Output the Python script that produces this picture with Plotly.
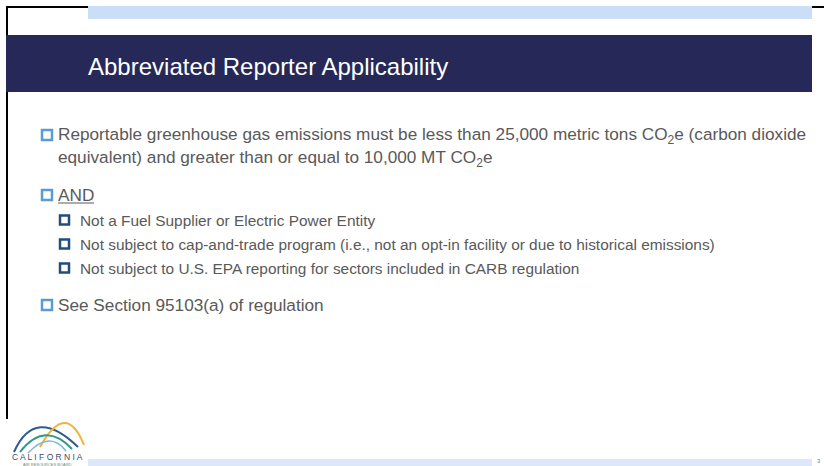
import plotly.graph_objects as go

W, H = 824, 466

title_text = "Abbreviated Reporter Applicability"
main_bullets = [
    ["Reportable greenhouse gas emissions must be less than 25,000 metric tons CO<sub>2</sub>e (carbon dioxide",
     "equivalent) and greater than or equal to 10,000 MT CO<sub>2</sub>e"],
    ["AND"],
    ["See Section 95103(a) of regulation"],
]
main_bullet_y = [135, 195, 305]
sub_bullets = [
    "Not a Fuel Supplier or Electric Power Entity",
    "Not subject to cap-and-trade program (i.e., not an opt-in facility or due to historical emissions)",
    "Not subject to U.S. EPA reporting for sectors included in CARB regulation",
]
sub_bullet_y = [220, 244, 268]
page_number = "3"

NAVY = "#262957"
LIGHT_BLUE = "#CADFF7"
LIGHTER_BLUE = "#DCE8F9"
TEXT_GRAY = "#595959"
BULLET_BLUE = "#5B9BD5"
SUB_BULLET = "#1F4E79"
LINE_GAP = 23

fig = go.Figure()
shapes = []
annotations = []

def rect(x0, y0, x1, y1, fill, line_color=None, lw=0):
    shapes.append(dict(type="rect", xref="x", yref="y", x0=x0, y0=y0, x1=x1, y1=y1,
                       fillcolor=fill, line=dict(color=line_color or fill, width=lw), layer="above"))

# frame lines
rect(6, 6, 88, 8, "black")
rect(6, 6, 8, 419, "black")
rect(812, 6, 824, 8, "black")
# top light band
rect(88, 6, 812, 19, LIGHT_BLUE)
# title band
rect(6, 35, 812, 92, NAVY)
# bottom band
rect(88, 459, 812, 466, LIGHTER_BLUE)

annotations.append(dict(x=86, y=66, xref="x", yref="y", text=title_text, showarrow=False,
                        xanchor="left", yanchor="middle",
                        font=dict(family="Liberation Sans Narrow, Arial Narrow, Liberation Sans", size=24, color="white")))

# main bullets
for lines, y in zip(main_bullets, main_bullet_y):
    rect(42, y - 5, 52, y + 5, "white", BULLET_BLUE, 2.5)
    for i, txt in enumerate(lines):
        annotations.append(dict(x=56, y=y + i * LINE_GAP, xref="x", yref="y", text=txt, showarrow=False,
                                xanchor="left", yanchor="middle", align="left",
                                font=dict(family="Liberation Sans, Arial", size=17.2, color=TEXT_GRAY)))
# underline AND
shapes.append(dict(type="line", xref="x", yref="y", x0=58, x1=94, y0=203, y1=203,
                   line=dict(color=TEXT_GRAY, width=1)))

# sub bullets
for txt, y in zip(sub_bullets, sub_bullet_y):
    rect(60, y - 4.5, 69, y + 4.5, "white", SUB_BULLET, 2.5)
    annotations.append(dict(x=78, y=y, xref="x", yref="y", text=txt, showarrow=False,
                            xanchor="left", yanchor="middle",
                            font=dict(family="Liberation Sans, Arial", size=15.4, color=TEXT_GRAY)))

# logo arcs
arcs = [
    ("M 14,452 Q 35,405 78,447", "#2E5C8A", 2),
    ("M 40,447 Q 66,400 84,445", "#F2B33D", 2),
    ("M 20,452 Q 45,420 72,449", "#2E9A8A", 2),
    ("M 28,453 Q 50,430 66,451", "#7FB8D8", 1.5),
]
for p, c, w in arcs:
    shapes.append(dict(type="path", xref="x", yref="y", path=p, line=dict(color=c, width=w), layer="above"))
annotations.append(dict(x=47, y=457, xref="x", yref="y", text="C A L I F O R N I A", showarrow=False,
                        xanchor="center", yanchor="middle",
                        font=dict(family="Liberation Sans, Arial", size=8.5, color="#3B4A6B")))
annotations.append(dict(x=47, y=464, xref="x", yref="y", text="AIR RESOURCES BOARD", showarrow=False,
                        xanchor="center", yanchor="middle",
                        font=dict(family="Liberation Sans, Arial", size=4, color="#6A8A7A")))

annotations.append(dict(x=819, y=461, xref="x", yref="y", text=page_number, showarrow=False,
                        xanchor="center", yanchor="middle",
                        font=dict(family="Liberation Sans, Arial", size=6, color="#7F7F7F")))

fig.update_layout(
    width=W, height=H, margin=dict(l=0, r=0, t=0, b=0),
    paper_bgcolor="white", plot_bgcolor="white",
    xaxis=dict(range=[0, W], visible=False, fixedrange=True),
    yaxis=dict(range=[H, 0], visible=False, fixedrange=True),
    shapes=shapes, annotations=annotations, showlegend=False,
)
fig.write_html("out.html", config={"displayModeBar": False},
               post_script="document.body.style.margin='0';document.body.style.overflow='hidden';")
